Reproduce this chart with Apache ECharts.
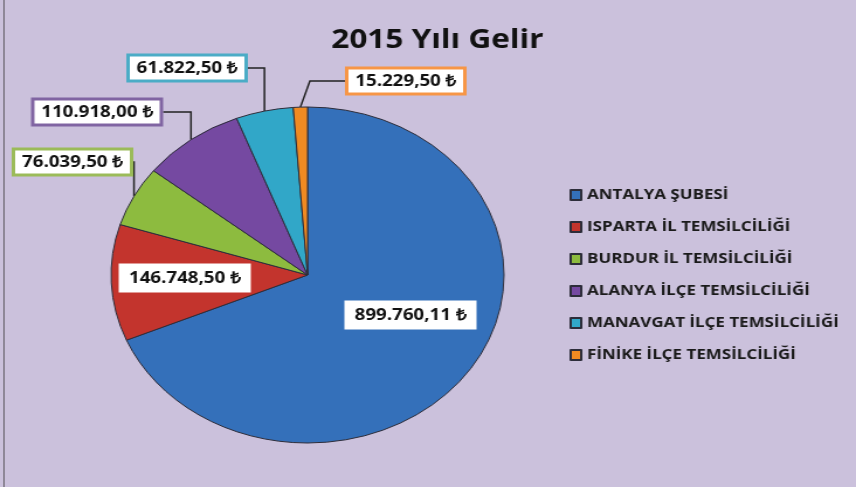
<!DOCTYPE html>
<html>
<head>
<meta charset="utf-8">
<script src="https://cdn.jsdelivr.net/npm/echarts@6/dist/echarts.min.js"></script>
<style>
  html, body { margin: 0; padding: 0; background: #cbc1dc; overflow: hidden; }
  /* the original picture is stretched sideways, so the chart is too */
  #main { width: 732px; height: 487px; transform: scaleX(1.1694); transform-origin: 0 0; }
  #edge { position: absolute; left: 3px; top: 0; width: 2px; height: 487px; background: #8f8898; }
</style>
</head>
<body>
<div id="main"></div>
<div id="edge"></div>
<script>
// 数据
const categories = [
  "ANTALYA ŞUBESİ",
  "ISPARTA İL TEMSİLCİLİĞİ",
  "BURDUR İL TEMSİLCİLİĞİ",
  "ALANYA İLÇE TEMSİLCİLİĞİ",
  "MANAVGAT İLÇE TEMSİLCİLİĞİ",
  "FİNİKE İLÇE TEMSİLCİLİĞİ"
];
const values = [899760.11, 146748.50, 76039.50, 110918.00, 61822.50, 15229.50];
const colors = ["#3470ba", "#c3342d", "#8dbb3f", "#7549a1", "#31a7c8", "#f08a22"];
const boxBorders = ["#ffffff", "#ffffff", "#9bbb59", "#8064a2", "#4bacc6", "#f79646"];

// label box centers (layout only, unscaled px)
const labelPos = [[351, 315], [158, 278], [62, 162], [83, 112], [160, 68], [347, 81]];

const labelFont = "bold 16px 'Open Sans'";

function trMoney(v) {
  let parts = v.toFixed(2).split(".");
  let intPart = parts[0].replace(/\B(?=(\d{3})+(?!\d))/g, ".");
  return intPart + "," + parts[1] + " ₺";
}

const measureCtx = document.createElement("canvas").getContext("2d");
function textWidth(s) {
  measureCtx.font = labelFont;
  return Math.ceil(measureCtx.measureText(s).width) + 1;
}

let myChart = echarts.init(document.getElementById("main"));

let option = {
  backgroundColor: "#cbc1dc",
  color: colors,
  title: {
    text: "2015 Yılı Gelir",
    left: 369,
    textAlign: "center",
    top: 22,
    textStyle: {
      fontFamily: "'Open Sans', sans-serif",
      fontWeight: "bold",
      fontSize: 27,
      color: "#111"
    }
  },
  legend: {
    orient: "vertical",
    left: 482,
    top: 181,
    itemWidth: 9,
    itemHeight: 10,
    itemGap: 14,
    icon: "rect",
    data: categories,
    textStyle: {
      fontFamily: "'Open Sans', sans-serif",
      fontWeight: "bold",
      fontSize: 14.5,
      lineHeight: 18,
      color: "#1a1a1a"
    }
  },
  series: [
    {
      type: "pie",
      center: [263, 275],
      radius: 168,
      startAngle: 90,
      clockwise: true,
      animation: false,
      itemStyle: {
        borderColor: "#2d2d3a",
        borderWidth: 1
      },
      label: {
        show: true,
        overflow: "none",
        formatter: function (p) { return trMoney(p.value); },
        fontFamily: "'Open Sans', sans-serif",
        fontWeight: "bold",
        fontSize: 16,
        color: "#111",
        backgroundColor: "#fff",
        borderWidth: 3,
        padding: [4, 5, 3, 5]
      },
      labelLine: {
        show: true,
        lineStyle: { color: "#222", width: 1.5 }
      },
      labelLayout: function (params) {
        let pos = labelPos[params.dataIndex];
        return {
          x: pos[0],
          y: pos[1],
          align: "center",
          verticalAlign: "middle",
          width: textWidth(trMoney(values[params.dataIndex]))
        };
      },
      data: values.map(function (v, i) {
        return {
          name: categories[i],
          value: v,
          label: { borderColor: boxBorders[i] },
          labelLine: { show: i > 1 }
        };
      })
    }
  ]
};

myChart.setOption(option);
</script>
</body>
</html>
